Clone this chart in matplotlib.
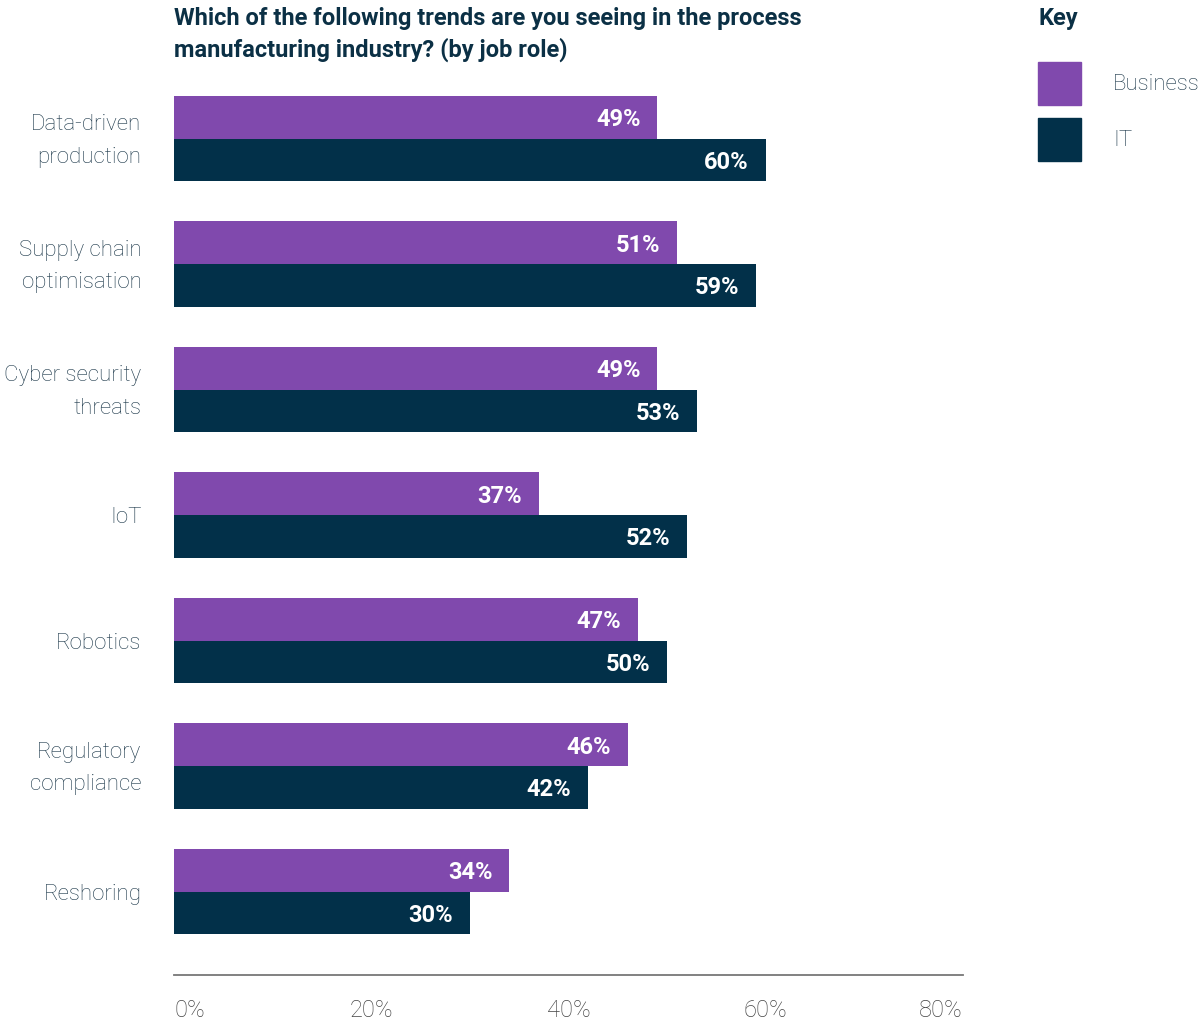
import numpy as np
import matplotlib.pyplot as plt

categories = ["Data-driven\nproduction", "Supply chain\noptimisation", "Cyber security\nthreats",
              "IoT", "Robotics", "Regulatory\ncompliance", "Reshoring"]
business = [49, 51, 49, 37, 47, 46, 34]
it = [60, 59, 53, 52, 50, 42, 30]
xticks = [0, 20, 40, 60, 80]

purple = "#8049ad"
navy = "#023049"
label_col = "#1a3648"

W, H = 1199, 1028
fig = plt.figure(figsize=(W / 100, H / 100), dpi=100)
ax = fig.add_axes([174 / W, 1 - 975 / H, (963 - 174) / W, (975 - 96) / H])

bh = 0.339
y = np.arange(len(categories))
ax.barh(y - bh / 2, business, height=bh, color=purple)
ax.barh(y + bh / 2, it, height=bh, color=navy)

dy = 0.02  # small downward nudge for text
for i in range(len(categories)):
    ax.text(business[i] - 1.7, y[i] - bh / 2 + dy, f"{business[i]}%", color="white",
            fontsize=17, fontweight="bold", family="Roboto", ha="right", va="center")
    ax.text(it[i] - 1.7, y[i] + bh / 2 + dy, f"{it[i]}%", color="white",
            fontsize=17, fontweight="bold", family="Roboto", ha="right", va="center")
    ax.text(-3.3, y[i] + dy, categories[i], color=label_col, fontsize=16, fontweight="light",
            family="Roboto", ha="right", va="center", linespacing=1.7)

ax.set_xlim(0, 80)
ax.set_ylim(y[-1] + 0.665, -bh)
ax.set_yticks([])
ax.set_xticks(xticks)
ax.set_xticklabels([f"{t}%" for t in xticks], fontsize=17, color="#444444",
                   fontweight="light", family="Roboto")
ax.get_xticklabels()[0].set_ha("left")
ax.get_xticklabels()[-1].set_ha("right")
ax.tick_params(axis="x", length=0, pad=17)
for s in ["top", "right", "left"]:
    ax.spines[s].set_visible(False)
ax.spines["bottom"].set_color("#777777")
ax.spines["bottom"].set_linewidth(1.3)

fig.text(174 / W, 1 - 7 / H, "Which of the following trends are you seeing in the process\nmanufacturing industry? (by job role)",
         fontsize=17, fontweight="bold", color="#0b3045", family="Roboto",
         ha="left", va="top", linespacing=1.4)

# legend
fig.text(1038 / W, 1 - 19 / H, "Key", fontsize=17, fontweight="bold", color="#0b3045",
         family="Roboto", ha="left", va="center")
for col, name, top in [(purple, "Business", 62), (navy, "IT", 118)]:
    fig.patches.append(plt.Rectangle((1038 / W, 1 - (top + 43) / H), 43 / W, 43 / H,
                                     transform=fig.transFigure, color=col))
    fig.text(1113 / W, 1 - (top + 23) / H, name, fontsize=16, fontweight="light",
             color=label_col, family="Roboto", ha="left", va="center")

plt.savefig("out.png", dpi=100)
